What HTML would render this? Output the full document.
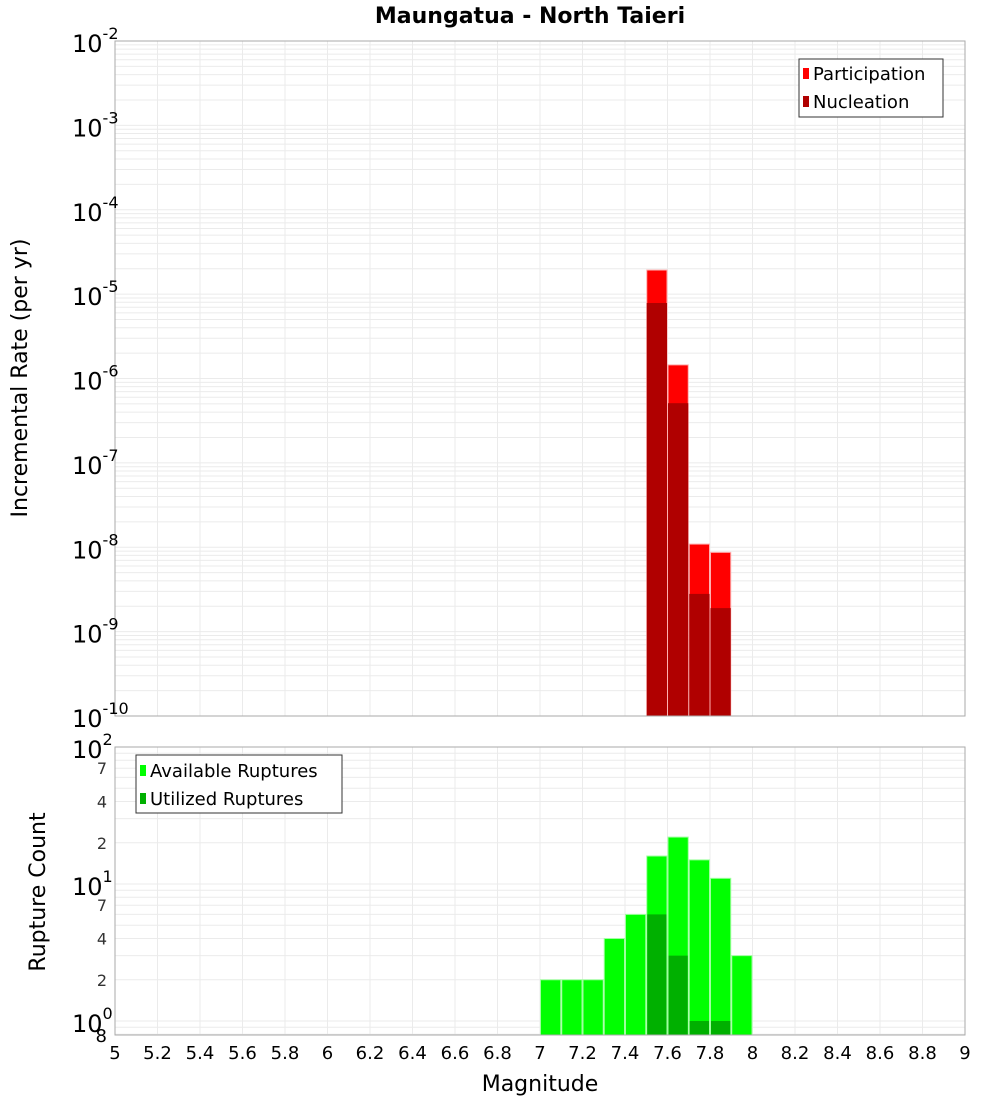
<!DOCTYPE html>
<html><head><meta charset="utf-8"><style>
body{margin:0;background:#fff;}
svg{display:block;font-family:"DejaVu Sans","Liberation Sans",sans-serif;}
</style></head><body>
<svg id="c" width="1000" height="1100" xmlns="http://www.w3.org/2000/svg"></svg>
<script>
const binStarts = [7.5, 7.6, 7.7, 7.8];
const participation = [1.93e-5, 1.45e-6, 1.09e-8, 8.7e-9];
const nucleation = [7.85e-6, 5.1e-7, 2.8e-9, 1.9e-9];
const countBins = [7.0, 7.1, 7.2, 7.3, 7.4, 7.5, 7.6, 7.7, 7.8, 7.9];
const available = [2, 2, 2, 4, 6, 16, 22, 15, 11, 3];
const utilized = [0, 0, 0, 0, 0, 6, 3, 1, 1, 0];
const xTicks = [5,5.2,5.4,5.6,5.8,6,6.2,6.4,6.6,6.8,7,7.2,7.4,7.6,7.8,8,8.2,8.4,8.6,8.8,9];
const topExps = [-2,-3,-4,-5,-6,-7,-8,-9,-10];
const botMinor = [2,4,7,20,40,70];

const NS="http://www.w3.org/2000/svg";
const svg=document.getElementById('c');
function el(t,a,p){const e=document.createElementNS(NS,t);for(const k in a)e.setAttribute(k,a[k]);(p||svg).appendChild(e);return e;}
const X0=115,X1=965;
const xs=m=>X0+(m-5)/4*(X1-X0);
const T0=41,T1=716;
const ysTop=v=>T0+(-2-Math.log10(v))/8*(T1-T0);
const B0=747,B1=1035;
const dec=137;
const ysBot=v=>B0+(2-Math.log10(v))*dec;

// top grid
let g=el('g',{});


for(let e=-10;e<-2;e++)for(let k=1;k<10;k++){const y=ysTop(k*Math.pow(10,e));if(y<T0||y>T1)continue;el('line',{x1:X0,x2:X1,y1:y,y2:y,stroke:'#ebebeb','stroke-width':1},g);}
xTicks.forEach(m=>el('line',{x1:xs(m),x2:xs(m),y1:T0,y2:T1,stroke:'#ebebeb'},g));
// bottom grid
let g2=el('g',{});


for(let e=-1;e<2;e++)for(let k=1;k<10;k++){const y=ysBot(k*Math.pow(10,e));if(y<B0||y>B1)continue;el('line',{x1:X0,x2:X1,y1:y,y2:y,stroke:'#ebebeb'},g2);}
xTicks.forEach(m=>el('line',{x1:xs(m),x2:xs(m),y1:B0,y2:B1,stroke:'#ebebeb'},g2));

// top bars
binStarts.forEach((b,i)=>{
 const x=xs(b),w=xs(b+0.1)-x;
 let r=el('rect',{x:x+0.5,y:ysTop(participation[i]),width:w-1,height:T1-ysTop(participation[i]),fill:'#ff0000',stroke:'#ffb0b0','stroke-width':1});
 
 
 let n=el('rect',{x:x+0.5,y:ysTop(nucleation[i]),width:w-1,height:T1-ysTop(nucleation[i]),fill:'#b00000'});
 
 
});
// bottom bars
countBins.forEach((b,i)=>{
 const x=xs(b),w=xs(b+0.1)-x;
 const ya=ysBot(available[i]);
 let r=el('rect',{x:x+0.5,y:ya,width:w-1,height:B1-ya,fill:'#00ff00',stroke:'#a0ffa0','stroke-width':1});
 
 
 if(utilized[i]>0){const yu=Math.min(ysBot(utilized[i]),B1);
 let u=el('rect',{x:x+1,y:yu,width:w-2,height:B1-yu,fill:'#00b000'});
 
 }
});
// frames
el('rect',{x:X0,y:T0,width:X1-X0,height:T1-T0,fill:'none',stroke:'#aaa'});
el('rect',{x:X0,y:B0,width:X1-X0,height:B1-B0,fill:'none',stroke:'#aaa'});

// top y labels
topExps.forEach(e=>{
 const y=ysTop(Math.pow(10,e));
 const t=el('text',{x:72,y:y+11,'font-size':24,fill:'#000'});
 
 
 t.textContent='10';
 const s=el('tspan',{dy:-13,'font-size':16},t);s.textContent=String(e);
});
// bottom y labels
[2,1,0].forEach(e=>{
 const y=ysBot(Math.pow(10,e));
 const t=el('text',{x:72,y:y+11,'font-size':24,fill:'#000'});
 
 
 t.textContent='10';
 const s=el('tspan',{dy:-13,'font-size':16},t);s.textContent=String(e);
});
botMinor.forEach(v=>{
 const y=ysBot(v);
 const t=el('text',{x:107,y:y+6,'font-size':16,fill:'#333','text-anchor':'end'});
 
 
 t.textContent=String(v%10===0?v/10:v);
});
{const t=el('text',{x:107,y:1042,'font-size':18,fill:'#000','text-anchor':'end'});t.textContent='8';
}

// x labels
xTicks.forEach(m=>{
 const t=el('text',{x:xs(m),y:1059,'font-size':18,'text-anchor':'middle',fill:'#000'});
 
 
 t.textContent=String(m);
});
</script>
<svg style="position:absolute;left:0;top:0" width="1000" height="1100" xmlns="http://www.w3.org/2000/svg" font-family="DejaVu Sans, Liberation Sans, sans-serif">
 <text x="530" y="23" font-size="22" font-weight="bold" text-anchor="middle">Maungatua - North Taieri</text>
 <text x="540" y="1091" font-size="22" text-anchor="middle">Magnitude</text>
 <text transform="translate(27,378) rotate(-90)" font-size="22" text-anchor="middle">Incremental Rate (per yr)</text>
 <text transform="translate(45,892) rotate(-90)" font-size="22" text-anchor="middle">Rupture Count</text>
 <g>
  <rect x="799" y="59" width="144" height="58" fill="#fff" stroke="#333"/>
  <rect x="803" y="68" width="6" height="11" fill="#ff0000"/>
  <text x="813" y="80" font-size="18">Participation</text>
  <rect x="803" y="96" width="6" height="11" fill="#b00000"/>
  <text x="813" y="108" font-size="18">Nucleation</text>
 </g>
 <g>
  <rect x="136" y="755" width="206" height="58" fill="#fff" stroke="#333"/>
  <rect x="140" y="765" width="6" height="11" fill="#00ff00"/>
  <text x="150" y="777" font-size="18">Available Ruptures</text>
  <rect x="140" y="793" width="6" height="11" fill="#00b000"/>
  <text x="150" y="805" font-size="18">Utilized Ruptures</text>
 </g>
</svg>
</body></html>
